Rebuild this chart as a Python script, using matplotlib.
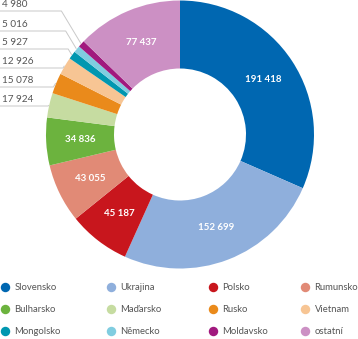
import numpy as np
import matplotlib
matplotlib.use("Agg")
import matplotlib.pyplot as plt

countries = ["Slovensko", "Ukrajina", "Polsko", "Rumunsko", "Bulharsko", "Maďarsko",
             "Rusko", "Vietnam", "Mongolsko", "Německo", "Moldavsko", "ostatní"]
values = [191418, 152699, 45187, 43055, 34836, 17924,
          15078, 12926, 5927, 5016, 4980, 77437]
colors = ["#0067b1", "#8fafdc", "#c8161d", "#e18a76", "#6cb33e", "#c6dca1",
          "#ea8a1b", "#f7c594", "#0097b0", "#80cde0", "#a1197e", "#cc90c4"]
value_labels = ["191 418", "152 699", "45 187", "43 055", "34 836", "17 924",
                "15 078", "12 926", "5 927", "5 016", "4 980", "77 437"]

W, H = 358, 339
fig = plt.figure(figsize=(W / 100, H / 100), dpi=100)
ax = fig.add_axes([0, 0, 1, 1])

cx, cy = 180, H - 134.5
R, r_in = 134, 66
wedges, _ = ax.pie(values, colors=colors, startangle=90, counterclock=False,
                   center=(cx, cy), radius=R, frame=True,
                   wedgeprops=dict(width=R - r_in, linewidth=0))
ax.set_xlim(0, W)
ax.set_ylim(0, H)
ax.set_aspect("equal")
ax.axis("off")

label_font = dict(family=["Lato", "DejaVu Sans"])
outside = {5: 106, 6: 87, 7: 68, 8: 49, 9: 31, 10: 11}  # leader line height (from top) per small slice

for i, w in enumerate(wedges):
    mid = np.deg2rad((w.theta1 + w.theta2) / 2)
    if i in outside:
        ex = cx + (R + 0.5) * np.cos(mid)
        ey = cy + (R + 0.5) * np.sin(mid)
        ly = H - outside[i]
        kx = ex - abs(ey - ly) * 0.6
        ax.plot([0, kx, ex], [ly, ly, ey], color="#c9c9c9", lw=0.7,
                solid_capstyle="butt", zorder=1)
        ax.text(2, ly + 2, value_labels[i], ha="left", va="bottom",
                fontsize=7.2, color="#555555", **label_font)
    else:
        rr = (R + r_in) / 2
        ax.text(cx + rr * np.cos(mid), cy + rr * np.sin(mid), value_labels[i],
                ha="center", va="center", fontsize=7.0, color="white",
                fontweight="bold", **label_font)

# legend grid
col_x = [5, 111, 213, 305]
row_y = [H - 287, H - 309, H - 331]
for i, (name, c) in enumerate(zip(countries, colors)):
    r, col = divmod(i, 4)
    ax.plot(col_x[col], row_y[r], "o", color=c, markersize=6.8, markeredgewidth=0)
    ax.text(col_x[col] + 9.5, row_y[r], name, ha="left", va="center",
            fontsize=6.8, color="#555555", **label_font)

fig.savefig("out.png", dpi=100)
